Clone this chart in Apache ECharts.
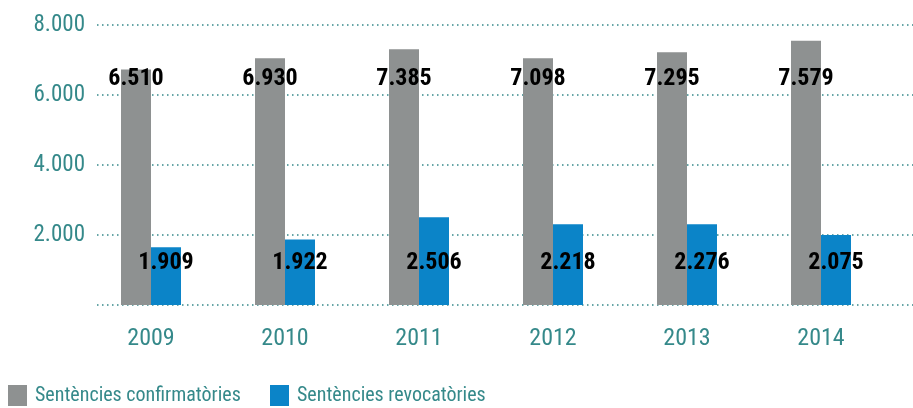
<!DOCTYPE html>
<html>
<head>
<meta charset="utf-8">
<script src="https://cdn.jsdelivr.net/npm/echarts@6/dist/echarts.min.js"></script>
<style>html,body{margin:0;padding:0;background:#fff}#c{width:913px;height:408px}</style>
</head>
<body>
<div id="c"></div>
<script>
const categories = ['2009', '2010', '2011', '2012', '2013', '2014'];
const seriesNames = ['Sentències confirmatòries', 'Sentències revocatòries'];
const confirmValues = [6730, 7050, 7310, 7050, 7220, 7550];
const revokeValues = [1650, 1870, 2510, 2310, 2310, 2000];
const confirmLabels = ['6.510', '6.930', '7.385', '7.098', '7.295', '7.579'];
const revokeLabels = ['1.909', '1.922', '2.506', '2.218', '2.276', '2.075'];
const yTicks = [0, 2000, 4000, 6000, 8000];

// pick a narrow font that is actually installed
const ctx = document.createElement('canvas').getContext('2d');
function w(font, s) { ctx.font = font; return ctx.measureText(s).width; }
const probe = 'Sentències 2.000 confirmatòries';
const candidates = [
  ['', '"Liberation Sans Narrow"'],
  ['', '"Roboto Condensed"'],
  ['', '"Open Sans Condensed"'],
  ['condensed', '"Open Sans"'],
  ['condensed', 'Roboto'],
  ['', '"Noto Sans Condensed"'],
  ['condensed', '"Noto Sans"'],
  ['', '"DejaVu Sans Condensed"']
];
let STYLE = '', FAM = '"DejaVu Sans Condensed", sans-serif';
for (const [st, fam] of candidates) {
  const base = w('100px monospace', probe);
  const test = w((st ? st + ' ' : '') + '100px ' + fam + ', monospace', probe);
  if (Math.abs(test - base) < 0.5) continue;
  if (st) {
    const plain = w('100px ' + fam + ', monospace', probe);
    if (!(test < plain - 1)) continue;
  }
  STYLE = st; FAM = fam + ', sans-serif'; break;
}
function fontStr(weight, size) { return [STYLE, weight || '', size + 'px', FAM].join(' ').trim(); }
function fitSize(text, target, weight, maxSize) {
  const per = w(fontStr(weight, 100), text) / 100;
  return Math.min(maxSize, Math.round(target / per * 2) / 2);
}
const labelSize = fitSize('6.510', 56, 'bold', 26);
const tickSize = fitSize('2009', 47, '', 24);
const ySize = fitSize('4.000', 52, '', 24);
const legendSize = fitSize(seriesNames[0], 206, '', 23);
const legendTextW = w(fontStr('', legendSize), seriesNames[0]);
const legendGap = Math.max(10, 270 - (8 + 19 + 8 + legendTextW));

const TEAL = '#35898a';
const fmt = v => v === 0 ? '' : (v / 1000).toFixed(3);
const baseText = { fontFamily: FAM, fontStyle: STYLE || 'normal' };

const chart = echarts.init(document.getElementById('c'));
chart.setOption({
  animation: false,
  textStyle: baseText,
  grid: [
    { left: 84, right: 25, top: 25, bottom: 103 },
    { left: 97, right: 0, top: 25, bottom: 103 }
  ],
  legend: {
    left: 8, bottom: 2, padding: 0,
    itemWidth: 19, itemHeight: 21, itemGap: legendGap,
    icon: 'rect',
    textStyle: Object.assign({ color: TEAL, fontSize: legendSize, padding: [0, 0, 0, 3] }, baseText),
    data: seriesNames
  },
  xAxis: [
    {
      gridIndex: 0, type: 'category', data: categories,
      axisLine: { show: false }, axisTick: { show: false },
      axisLabel: Object.assign({ color: TEAL, fontSize: tickSize, margin: 22 }, baseText)
    },
    { gridIndex: 1, type: 'value', show: false }
  ],
  yAxis: [
    { gridIndex: 0, type: 'value', min: 0, max: 8000, interval: 2000, show: false },
    {
      gridIndex: 1, type: 'value', min: yTicks[0], max: yTicks[yTicks.length - 1], interval: 2000,
      axisLine: { show: false }, axisTick: { show: false },
      axisLabel: Object.assign({ color: TEAL, fontSize: ySize, margin: 12, formatter: fmt }, baseText),
      splitLine: { show: true, lineStyle: { color: TEAL, type: [1.5, 3.5], width: 1.5 } }
    }
  ],
  series: [
    {
      name: seriesNames[0], type: 'bar', xAxisIndex: 0, yAxisIndex: 0,
      data: confirmValues, barWidth: 30, barGap: '0%',
      itemStyle: { color: '#8e9191' },
      label: Object.assign({
        show: true, position: 'insideBottom', distance: 214,
        formatter: p => confirmLabels[p.dataIndex],
        color: '#000', fontSize: labelSize, fontWeight: 'bold'
      }, baseText)
    },
    {
      name: seriesNames[1], type: 'bar', xAxisIndex: 0, yAxisIndex: 0,
      data: revokeValues, barWidth: 30, barGap: '0%',
      itemStyle: { color: '#0b84c8' },
      label: Object.assign({
        show: true, position: 'insideBottom', distance: 30,
        formatter: p => revokeLabels[p.dataIndex],
        color: '#000', fontSize: labelSize, fontWeight: 'bold'
      }, baseText)
    }
  ]
});
</script>
</body>
</html>
